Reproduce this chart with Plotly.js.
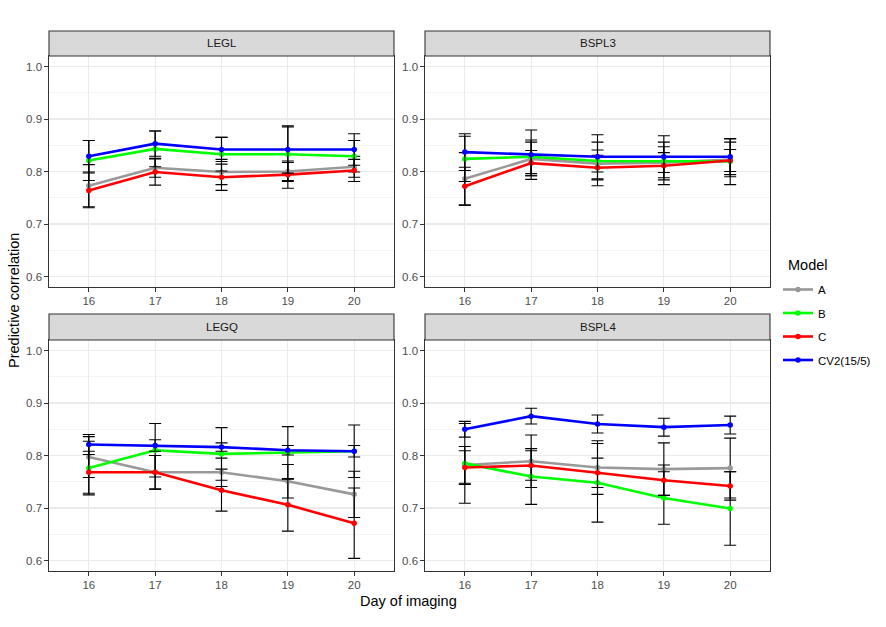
<!DOCTYPE html>
<html>
<head>
<meta charset="utf-8">
<script src="https://cdn.plot.ly/plotly-3.0.1.min.js"></script>
<style>html,body{margin:0;padding:0;background:#fff;}#chart{width:886px;height:627px;}</style>
</head>
<body>
<div id="chart"></div>
<script>
// ---- data ----
const days = [16, 17, 18, 19, 20];
const panels = ["LEGL", "BSPL3", "LEGQ", "BSPL4"];
const models = ["A", "B", "C", "CV2(15/5)"];

// LEGL
const LEGL_A = [0.773, 0.807, 0.799, 0.800, 0.809];
const LEGL_A_err = [0.040, 0.018, 0.024, 0.017, 0.020];
const LEGL_B = [0.821, 0.843, 0.833, 0.833, 0.829];
const LEGL_B_err = [0.038, 0.034, 0.032, 0.052, 0.030];
const LEGL_C = [0.764, 0.799, 0.789, 0.794, 0.802];
const LEGL_C_err = [0.033, 0.025, 0.025, 0.026, 0.021];
const LEGL_CV2 = [0.829, 0.853, 0.842, 0.842, 0.842];
const LEGL_CV2_err = [0.030, 0.024, 0.023, 0.045, 0.030];

// BSPL3
const BSPL3_A = [0.786, 0.824, 0.815, 0.817, 0.823];
const BSPL3_A_err = [0.050, 0.032, 0.016, 0.019, 0.033];
const BSPL3_B = [0.824, 0.828, 0.820, 0.820, 0.819];
const BSPL3_B_err = [0.043, 0.032, 0.036, 0.036, 0.044];
const BSPL3_C = [0.772, 0.816, 0.807, 0.811, 0.821];
const BSPL3_C_err = [0.036, 0.024, 0.034, 0.036, 0.021];
const BSPL3_CV2 = [0.837, 0.832, 0.828, 0.828, 0.828];
const BSPL3_CV2_err = [0.035, 0.047, 0.042, 0.040, 0.034];

// LEGQ
const LEGQ_A = [0.797, 0.768, 0.768, 0.751, 0.726];
const LEGQ_A_err = [0.039, 0.032, 0.027, 0.032, 0.044];
const LEGQ_B = [0.776, 0.810, 0.803, 0.805, 0.808];
const LEGQ_B_err = [0.051, 0.051, 0.050, 0.050, 0.050];
const LEGQ_C = [0.768, 0.768, 0.734, 0.706, 0.671];
const LEGQ_C_err = [0.040, 0.032, 0.040, 0.050, 0.067];
const LEGQ_CV2 = [0.821, 0.819, 0.816, 0.810, 0.808];
const LEGQ_CV2_err = [0.019, 0.011, 0.008, 0.009, 0.011];

// BSPL4
const BSPL4_A = [0.782, 0.789, 0.777, 0.774, 0.776];
const BSPL4_A_err = [0.035, 0.050, 0.051, 0.050, 0.057];
const BSPL4_B = [0.785, 0.760, 0.748, 0.719, 0.699];
const BSPL4_B_err = [0.076, 0.053, 0.075, 0.050, 0.070];
const BSPL4_C = [0.777, 0.781, 0.767, 0.753, 0.742];
const BSPL4_C_err = [0.032, 0.028, 0.028, 0.029, 0.027];
const BSPL4_CV2 = [0.850, 0.875, 0.860, 0.854, 0.858];
const BSPL4_CV2_err = [0.015, 0.015, 0.017, 0.017, 0.017];

const yTicks = [0.6, 0.7, 0.8, 0.9, 1.0];
const yTickText = ["0.6", "0.7", "0.8", "0.9", "1.0"];

// ---- build ----
const seriesByPanel = {
  LEGL: [[LEGL_A, LEGL_A_err], [LEGL_B, LEGL_B_err], [LEGL_C, LEGL_C_err], [LEGL_CV2, LEGL_CV2_err]],
  BSPL3: [[BSPL3_A, BSPL3_A_err], [BSPL3_B, BSPL3_B_err], [BSPL3_C, BSPL3_C_err], [BSPL3_CV2, BSPL3_CV2_err]],
  LEGQ: [[LEGQ_A, LEGQ_A_err], [LEGQ_B, LEGQ_B_err], [LEGQ_C, LEGQ_C_err], [LEGQ_CV2, LEGQ_CV2_err]],
  BSPL4: [[BSPL4_A, BSPL4_A_err], [BSPL4_B, BSPL4_B_err], [BSPL4_C, BSPL4_C_err], [BSPL4_CV2, BSPL4_CV2_err]]
};
const colors = ["#999999", "#00FF00", "#FF0000", "#0000FF"];
const FONT = "Liberation Sans, Arial, sans-serif";
const W = 886, H = 627;

const traces = [];
panels.forEach((p, pi) => {
  const ax = pi === 0 ? "" : String(pi + 1);
  seriesByPanel[p].forEach((s, si) => {
    traces.push({
      type: "scatter", mode: "lines+markers",
      x: days, y: s[0],
      name: models[si], legendgroup: models[si], showlegend: pi === 0,
      xaxis: "x" + ax, yaxis: "y" + ax,
      line: {color: colors[si], width: 2.6},
      marker: {color: colors[si], size: 5.5},
      error_y: {type: "data", array: s[1], visible: true, color: "#000000", thickness: 1.1, width: 6}
    });
  });
});

// pixel geometry -> paper
const px = v => v / W, py = v => 1 - v / H;
const colsX = [[49, 394], [425, 770]];
const rowsY = [[56, 287], [340, 571]];
const stripsY = [[31, 56], [314, 340]];

const layout = {
  width: W, height: H,
  margin: {l: 0, r: 0, t: 0, b: 0},
  paper_bgcolor: "#ffffff", plot_bgcolor: "#ffffff",
  font: {family: FONT, color: "#4D4D4D", size: 11.5},
  showlegend: true,
  legend: {
    x: px(778), y: py(275), xanchor: "left", yanchor: "top",
    traceorder: "grouped", tracegroupgap: 4.5,
    font: {family: FONT, size: 11.5, color: "#000000"},
    bgcolor: "rgba(0,0,0,0)", itemwidth: 30
  },
  shapes: [], annotations: []
};

panels.forEach((p, pi) => {
  const c = pi % 2, r = Math.floor(pi / 2);
  const ax = pi === 0 ? "" : String(pi + 1);
  layout["xaxis" + ax] = {
    domain: [px(colsX[c][0]), px(colsX[c][1])],
    anchor: "y" + ax,
    range: [15.4, 20.6],
    tickvals: days, ticktext: days.map(String),
    ticks: "outside", ticklen: 3.5, tickwidth: 1, tickcolor: "#333333",
    showline: true, mirror: true, linecolor: "#333333", linewidth: 1.1,
    showgrid: true, gridcolor: "#EBEBEB", gridwidth: 1.1, zeroline: false,
    tickfont: {family: FONT, size: 11.5, color: "#4D4D4D"}
  };
  layout["yaxis" + ax] = {
    domain: [py(rowsY[r][1]), py(rowsY[r][0])],
    anchor: "x" + ax,
    range: [0.58, 1.02],
    tickvals: yTicks, ticktext: yTickText,
    ticks: "outside", ticklen: 3.5, tickwidth: 1, tickcolor: "#333333",
    showline: true, mirror: true, linecolor: "#333333", linewidth: 1.1,
    showgrid: true, gridcolor: "#EBEBEB", gridwidth: 1.1, zeroline: false,
    minor: {dtick: 0.05, tick0: 0, showgrid: true, gridcolor: "#EBEBEB", gridwidth: 0.55, ticks: ""},
    tickfont: {family: FONT, size: 11.5, color: "#4D4D4D"}
  };
  layout.shapes.push({
    type: "rect", xref: "paper", yref: "paper",
    x0: px(colsX[c][0]), x1: px(colsX[c][1]),
    y0: py(stripsY[r][1]), y1: py(stripsY[r][0]),
    fillcolor: "#D9D9D9", line: {color: "#333333", width: 1.1}
  });
  layout.annotations.push({
    xref: "paper", yref: "paper",
    x: px((colsX[c][0] + colsX[c][1]) / 2), y: py((stripsY[r][0] + stripsY[r][1]) / 2),
    text: p, showarrow: false, xanchor: "center", yanchor: "middle",
    font: {family: FONT, size: 11.5, color: "#1A1A1A"}
  });
});

layout.annotations.push({
  xref: "paper", yref: "paper", x: px(786), y: py(265),
  text: "Model", showarrow: false, xanchor: "left", yanchor: "middle",
  font: {family: FONT, size: 14.5, color: "#000000"}
});
layout.annotations.push({
  xref: "paper", yref: "paper", x: px(408), y: py(601),
  text: "Day of imaging", showarrow: false, xanchor: "center", yanchor: "middle",
  font: {family: FONT, size: 14.5, color: "#000000"}
});
layout.annotations.push({
  xref: "paper", yref: "paper", x: px(14), y: py(301),
  text: "Predictive correlation", showarrow: false, textangle: -90,
  xanchor: "center", yanchor: "middle",
  font: {family: FONT, size: 14.5, color: "#000000"}
});

Plotly.newPlot("chart", traces, layout, {displayModeBar: false, staticPlot: true});
</script>
</body>
</html>
